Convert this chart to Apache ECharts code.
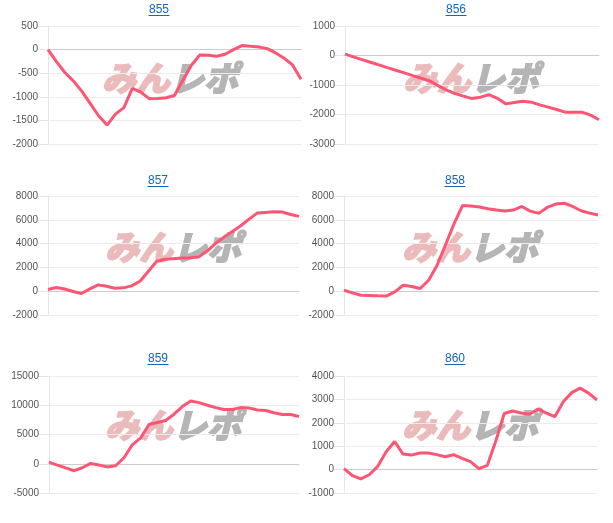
<!DOCTYPE html>
<html>
<head>
<meta charset="utf-8">
<script src="https://cdn.jsdelivr.net/npm/echarts@6/dist/echarts.min.js"></script>
<style>
html,body{margin:0;padding:0;background:#fff;}
#c{width:613px;height:523px;}
</style>
</head>
<body>
<div id="c"></div>
<script>
// ---- data ----
const titles = ['855', '856', '857', '858', '859', '860'];
const days = Array.from({length: 31}, (_, i) => String(i + 1));
const s855 = [0,-254,-486,-662,-880,-1141,-1401,-1600,-1366,-1230,-820,-900,-1040,-1035,-1021,-972,-648,-331,-113,-120,-141,-99,0,85,70,56,21,-70,-183,-324,-630];
const s856 = [45,-45,-138,-228,-318,-410,-500,-590,-682,-773,-860,-1023,-1175,-1294,-1379,-1460,-1412,-1330,-1453,-1640,-1593,-1548,-1582,-1672,-1751,-1830,-1920,-1920,-1920,-2020,-2180];
const s857 = [140,307,184,-20,-195,195,530,420,250,280,447,838,1676,2514,2680,2737,2780,2821,2877,3350,3994,4525,5000,5475,6034,6564,6620,6676,6650,6450,6285];
const s858 = [84,-140,-335,-363,-391,-410,-56,503,390,223,922,2180,3910,5670,7200,7150,7070,6930,6820,6730,6820,7120,6730,6540,7040,7320,7400,7120,6760,6560,6400];
const s859 = [280,-230,-710,-1190,-680,50,-230,-540,-340,1020,3240,4430,6700,7045,7390,8470,9770,10740,10450,10000,9600,9260,9260,9600,9550,9180,9090,8720,8410,8410,8070];
const s860 = [40,-255,-400,-220,140,765,1200,665,620,710,710,640,550,635,480,340,40,185,1220,2395,2505,2420,2365,2590,2410,2260,2900,3290,3480,3270,2975];
const seriesData = [s855, s856, s857, s858, s859, s860];
const yMin = [-2000, -3000, -2000, -2000, -5000, -1000];
const yMax = [500, 1000, 8000, 8000, 15000, 4000];
const yStep = [500, 1000, 2000, 2000, 5000, 1000];

// ---- layout ----
const grids = [
  {left: 48, top: 26, width: 253, height: 118},
  {left: 345, top: 26, width: 254, height: 118},
  {left: 48, top: 196, width: 251, height: 119},
  {left: 344, top: 196, width: 254, height: 119},
  {left: 49, top: 376, width: 250, height: 117},
  {left: 344, top: 376, width: 253, height: 117}
];
const titlePos = [[159, 10], [456, 10], [158, 181], [455, 181], [158, 359], [455, 359]];
const markPos = [[170, 78], [471, 78], [173, 247], [470, 247], [173, 425], [470, 425]];

const chart = echarts.init(document.getElementById('c'), null, {renderer: 'canvas'});
const graphic = [];
titles.forEach((t, i) => {
  const [x, y] = titlePos[i];
  graphic.push({
    type: 'text', z: 10, style: {
      x: x, y: y, text: t, textAlign: 'center', textVerticalAlign: 'middle',
      font: '12px "Liberation Sans", Arial, sans-serif', fill: '#1565c0'
    }
  });
  graphic.push({
    type: 'line', z: 10, shape: {x1: x - 10.5, y1: y + 5.5, x2: x + 10.5, y2: y + 5.5},
    style: {stroke: '#1565c0', lineWidth: 1}
  });
  const [mx, my] = markPos[i];
  graphic.push({
    type: 'text', z: 0, style: {
      x: mx, y: my, text: '{a|みん}{b|レポ}', textAlign: 'center', textVerticalAlign: 'middle',
      rich: {
        a: {fontSize: 34, fontWeight: 900, fontStyle: 'italic', fontFamily: '"Noto Sans CJK JP"', fill: '#ebbaba', stroke: '#ebbaba', lineWidth: 1.5},
        b: {fontSize: 34, fontWeight: 900, fontStyle: 'italic', fontFamily: '"Noto Sans CJK JP"', fill: '#b5b5b5', stroke: '#b5b5b5', lineWidth: 1.5}
      }
    }
  });
});

const option = {
  animation: false,
  backgroundColor: '#fff',
  grid: grids,
  xAxis: grids.map((g, i) => ({
    type: 'category', gridIndex: i, data: days, boundaryGap: false,
    axisLabel: {show: false}, axisTick: {show: false},
    axisLine: {show: true, onZero: true, lineStyle: {color: '#cccccc', width: 1}},
    splitLine: {show: false}
  })),
  yAxis: grids.map((g, i) => ({
    type: 'value', gridIndex: i, min: yMin[i], max: yMax[i], interval: yStep[i],
    axisLine: {show: true, lineStyle: {color: '#e6e6e6'}},
    axisTick: {show: true, length: 10, lineStyle: {color: '#e6e6e6'}},
    axisLabel: {color: '#555', fontSize: 10, margin: 10, fontFamily: '"Liberation Sans", Arial, sans-serif',
      formatter: v => String(v)},
    splitLine: {show: true, lineStyle: {color: '#ebebeb'}}
  })),
  series: seriesData.map((d, i) => ({
    type: 'line', xAxisIndex: i, yAxisIndex: i, data: d, z: 5,
    symbol: 'none', lineStyle: {color: '#ff5574', width: 3}, itemStyle: {color: '#ff5574'}
  })),
  graphic: graphic
};
chart.setOption(option);
</script>
</body>
</html>
